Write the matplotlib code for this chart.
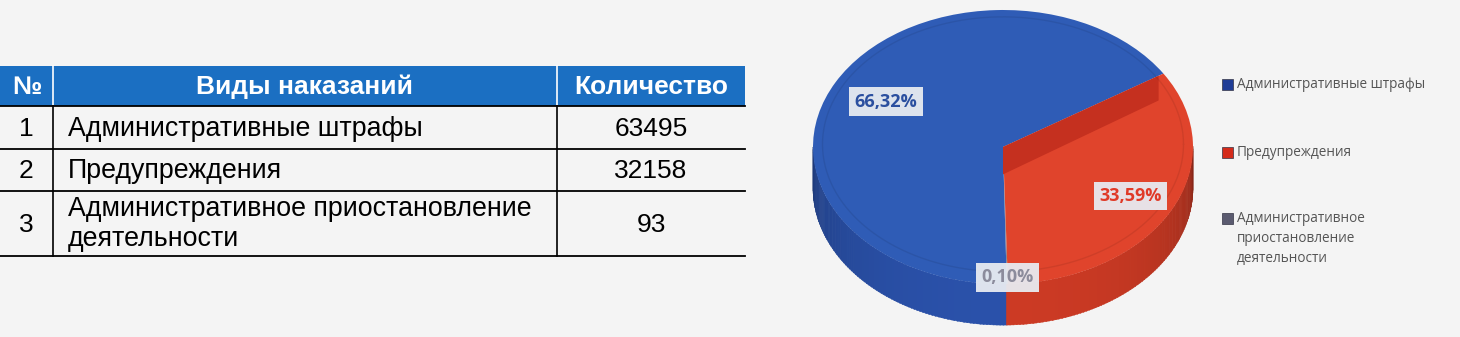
import numpy as np
import matplotlib
matplotlib.use("Agg")
import matplotlib.pyplot as plt
from matplotlib.patches import Rectangle, Polygon
from matplotlib.colors import to_rgb

# ---- data -------------------------------------------------------------
HEADERS = ["№", "Виды наказаний", "Количество"]
ROW_NUM = ["1", "2", "3"]
ROW_TYPE = ["Административные штрафы", "Предупреждения",
            "Административное приостановление\nдеятельности"]
ROW_COUNT = [63495, 32158, 93]

LEGEND_LABELS = ["Административные штрафы", "Предупреждения",
                 "Административное\nприостановление\nдеятельности"]
PIE_COLORS = ["#2f5cb6", "#e0442c", "#80808f"]
SIDE_COLORS = ["#2a51aa", "#cc3a24", "#6e6e80"]
LEGEND_COLORS = ["#1f3c96", "#d42a1a", "#5b5b70"]
LABEL_COLORS = ["#2b4f9f", "#e03a28", "#8c8c9c"]
LABEL_RADII = [0.70, 0.76, 0.95]
PIE_ORDER = [0, 2, 1]          # ccw drawing order: fines, suspension, warnings

BG = "#f4f4f4"
W, H = 1460, 337

fig = plt.figure(figsize=(W / 100, H / 100), dpi=100)
fig.patch.set_facecolor(BG)

# ---- table (pixel coordinates) ------------------------------------------
ax = fig.add_axes([0, 0, 1, 1])
ax.set_xlim(0, W); ax.set_ylim(H, 0); ax.axis("off")
col_x = [0, 53, 557, 745]
row_y = [66, 106, 149, 191, 256]
tfont = "Liberation Sans"

ax.add_patch(Rectangle((col_x[0], row_y[0]), col_x[-1] - col_x[0],
                       row_y[1] - row_y[0], color="#1b6fc2", lw=0))
for x in col_x[1:-1]:
    ax.plot([x, x], [row_y[0], row_y[1]], color="white", lw=1.2)
    ax.plot([x, x], [row_y[1], row_y[-1]], color="black", lw=1.2)
for y in row_y[1:]:
    ax.plot([col_x[0], col_x[-1]], [y, y], color="black", lw=1.3)

for i, h in enumerate(HEADERS):
    ax.text((col_x[i] + col_x[i + 1]) / 2, (row_y[0] + row_y[1]) / 2 + 1, h,
            ha="center", va="center", color="white", fontsize=19,
            fontweight="bold", family=tfont)

for r in range(len(ROW_NUM)):
    yc = (row_y[r + 1] + row_y[r + 2]) / 2 + 1
    ax.text((col_x[0] + col_x[1]) / 2, yc, ROW_NUM[r], ha="center",
            va="center", fontsize=19, family=tfont, color="black")
    ax.text(col_x[1] + 15, yc, ROW_TYPE[r], ha="left", va="center",
            fontsize=19.3, family=tfont, color="black", linespacing=1.2)
    ax.text((col_x[2] + col_x[3]) / 2, yc, str(ROW_COUNT[r]), ha="center",
            va="center", fontsize=19, family=tfont, color="black")

# ---- 3d-looking pie -----------------------------------------------------
cx, cy, rx, ry = 1003, 147, 190, 137      # top face ellipse in pixels
xl, yl = (-1.1, 1.1), (-1.5, 1.1)
left = cx + xl[0] * rx
top = cy - yl[1] * ry
pw = (xl[1] - xl[0]) * rx
ph = (yl[1] - yl[0]) * ry
pax = fig.add_axes([left / W, (H - top - ph) / H, pw / W, ph / H])
pax.set_facecolor("none")

total = sum(ROW_COUNT)
vals = [ROW_COUNT[i] for i in PIE_ORDER]
wedges, _ = pax.pie(vals, colors=[PIE_COLORS[i] for i in PIE_ORDER],
                    startangle=32.4, counterclock=True,
                    wedgeprops=dict(linewidth=0))
pax.set_aspect("auto")
pax.set_xlim(*xl); pax.set_ylim(*yl)
pax.axis("off")
for w in wedges:
    w.set_zorder(3)

depth = 0.30


def owner(t):
    for k, w in enumerate(wedges):
        a, b = w.theta1 % 360, w.theta2 % 360
        tt = t % 360
        if (a <= b and a <= tt < b) or (a > b and (tt >= a or tt < b)):
            return PIE_ORDER[k]
    return PIE_ORDER[0]


# side wall (front half), shaded by angle
step = 1.0
for t0 in np.arange(180, 360, step):
    t = np.radians(np.linspace(t0, t0 + step + 0.3, 4))
    k = owner(t0 + step / 2)
    shade = 0.62 + 0.38 * (-np.sin(np.radians(t0 + step / 2))) ** 0.5
    col = np.clip(np.array(to_rgb(SIDE_COLORS[k])) * shade, 0, 1)
    xs = np.concatenate([np.cos(t), np.cos(t[::-1])])
    ys = np.concatenate([np.sin(t), np.sin(t[::-1]) - depth])
    pax.add_patch(Polygon(np.column_stack([xs, ys]), closed=True,
                          facecolor=col, edgecolor=col, lw=0.3, zorder=2))

# darker cut face along the red wedge's upper edge
red_w = wedges[PIE_ORDER.index(1)]
a = np.radians(red_w.theta2)
ca, sa = 0.97 * np.cos(a), 0.97 * np.sin(a)
strip = np.array([[0, 0], [ca, sa], [ca, sa - 0.18], [0, -0.2]])
pax.add_patch(Polygon(strip, closed=True, facecolor="#c5301f",
                      edgecolor="none", zorder=4))
# faint bevel rim on the top face
tt = np.linspace(0, 2 * np.pi, 300)
pax.plot(0.95 * np.cos(tt), 0.93 * np.sin(tt) + 0.02, color="black",
         alpha=0.08, lw=1, zorder=5)

# percentage labels
for k, w in zip(PIE_ORDER, wedges):
    mid = np.radians((w.theta1 + w.theta2) / 2)
    r = LABEL_RADII[k]
    pct = f"{100 * ROW_COUNT[k] / total:.2f}%".replace(".", ",")
    pax.text(r * np.cos(mid), r * np.sin(mid), pct, ha="center", va="center",
             fontsize=13, fontweight="bold", family="Open Sans",
             color=LABEL_COLORS[k], zorder=6,
             bbox=dict(boxstyle="square,pad=0.3", facecolor="#e8ebf1",
                       edgecolor="none", alpha=0.95))

# ---- legend ---------------------------------------------------------------
leg_y = [84, 152, 218]
for i, lab in enumerate(LEGEND_LABELS):
    ax.add_patch(Rectangle((1222, leg_y[i] - 5), 11, 11,
                           facecolor=LEGEND_COLORS[i], edgecolor="#333344",
                           lw=0.5))
    ax.text(1237, leg_y[i] - 7, lab, ha="left", va="top", fontsize=9.8,
            family="Open Sans", color="#555555", linespacing=1.45)

fig.savefig("out.png", dpi=100, facecolor=BG)
